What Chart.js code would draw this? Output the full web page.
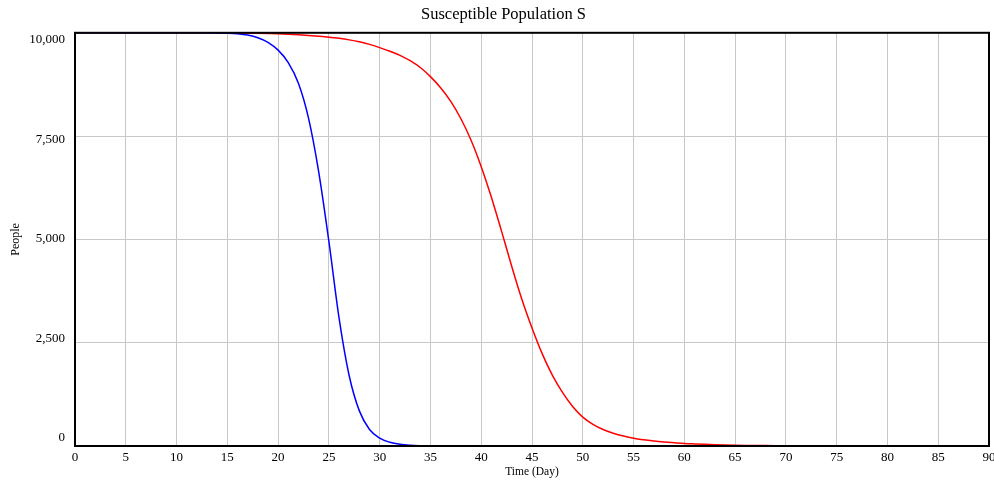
<!DOCTYPE html>
<html>
<head>
<meta charset="utf-8">
<script src="https://cdn.jsdelivr.net/npm/chart.js@4.4.0/dist/chart.umd.min.js"></script>
<style>
html,body{margin:0;padding:0;background:#fff;}
#wrap{width:994px;height:483px;position:relative;}
</style>
</head>
<body>
<div id="wrap"><canvas id="c" width="994" height="483"></canvas></div>
<script>
const chartTitle = "Susceptible Population S";
const xAxisTitle = "Time (Day)";
const yAxisTitle = "People";
const days = [0,1,2,3,4,5,6,7,8,9,10,11,12,13,14,15,16,17,18,19,20,21,22,23,24,25,26,27,28,29,30,31,32,33,34,35,36,37,38,39,40,41,42,43,44,45,46,47,48,49,50,51,52,53,54,55,56,57,58,59,60,61,62,63,64,65,66,67,68,69,70,71,72,73,74,75,76,77,78,79,80,81,82,83,84,85,86,87,88,89,90];
const seriesBlue = [10000,10000,10000,10000,10000,10000,10000,10000,10000,10000,10000,10000,9999,9999,9997,9992,9978,9945,9880,9770,9580,9280,8780,7930,6630,4950,3100,1700,850,400,190,90,40,17,7,3,1,1,0,0,0,0,0,0,0,0,0,0,0,0,0,0,0,0,0,0,0,0,0,0,0,0,0,0,0,0,0,0,0,0,0,0,0,0,0,0,0,0,0,0,0,0,0,0,0,0,0,0,0,0,0];
const seriesRed = [10000,10000,10000,10000,10000,10000,10000,10000,10000,10000,10000,10000,10000,9999,9999,9998,9996,9993,9988,9982,9975,9965,9952,9936,9917,9895,9866,9829,9782,9720,9642,9555,9455,9325,9160,8940,8670,8340,7920,7400,6760,6020,5200,4350,3550,2856,2236,1716,1296,956,700,525,400,310,240,186,150,122,99,80,62,50,40,32,25,19,15,12,10,8,6,5,4,4,3,3,2,2,2,2,1,1,1,1,1,1,1,1,1,1,1];
const xTicksStep = 5;
const yTicksStep = 2500;

const toPts = arr => arr.map((v,i)=>({x:days[i], y:v}));

const borderPlugin = {
  id:'plotBorder',
  afterDatasetsDraw(chart){
    const a = chart.chartArea, ctx = chart.ctx;
    ctx.save();
    ctx.strokeStyle = '#000';
    ctx.lineWidth = 2;
    ctx.strokeRect(a.left, a.top, a.right-a.left, a.bottom-a.top);
    ctx.restore();
  }
};

// nudge y tick labels inward like the reference (0 sits above axis, top label below frame)
const yLabelNudge = {
  id:'yLabelNudge',
  beforeDraw(chart){
    const s = chart.scales.y;
    const items = s.getLabelItems();
    if (items._nudged) return;
    items.forEach((it,i)=>{
      const v = s.ticks[i] ? s.ticks[i].value : 0;
      const off = -8 + 15*(v/10000);
      it.options.translation[1] += off;
    });
    items._nudged = true;
  }
};

new Chart(document.getElementById('c'), {
  type:'line',
  data:{
    datasets:[
      {label:'S (run 1)', data:toPts(seriesBlue), borderColor:'#0000ff', borderWidth:1.5, pointRadius:0, cubicInterpolationMode:'monotone', fill:false, order:0},
      {label:'S (run 2)', data:toPts(seriesRed), borderColor:'#ff0000', borderWidth:1.5, pointRadius:0, cubicInterpolationMode:'monotone', fill:false, order:1}
    ]
  },
  options:{
    responsive:false,
    animation:false,
    layout:{padding:{left:18,right:5,top:0,bottom:0}},
    plugins:{
      legend:{display:false},
      tooltip:{enabled:false},
      title:{display:true, text:chartTitle, color:'#000', font:{family:'Liberation Serif', size:16.5, weight:'normal', lineHeight:1.2}, padding:{top:5,bottom:8}}
    },
    scales:{
      x:{
        type:'linear', min:0, max:90,
        ticks:{stepSize:xTicksStep, color:'#000', font:{family:'Liberation Serif', size:13}, padding:4, maxRotation:0, autoSkip:false},
        grid:{color:'#c8c8c8', lineWidth:1, drawTicks:false},
        border:{color:'#000', width:2},
        title:{display:true, text:xAxisTitle, color:'#000', font:{family:'Liberation Serif', size:11.5}, padding:{top:0,bottom:4}},
        afterFit(s){ s.height = 37; s.paddingLeft = 0; s.paddingRight = 0; }
      },
      y:{
        min:0, max:10000,
        ticks:{stepSize:yTicksStep, color:'#000', font:{family:'Liberation Serif', size:13}, padding:10,
          callback:v=>v.toLocaleString('en-US')},
        grid:{color:'#c8c8c8', lineWidth:1, drawTicks:false},
        border:{color:'#000', width:2},
        title:{display:true, text:yAxisTitle, color:'#000', font:{family:'Liberation Serif', size:12}, padding:{top:-9,bottom:0}},
        afterFit(s){ s.width = 57; s.paddingTop = 0; s.paddingBottom = 0; }
      }
    }
  },
  plugins:[borderPlugin, yLabelNudge]
});
</script>
</body>
</html>
